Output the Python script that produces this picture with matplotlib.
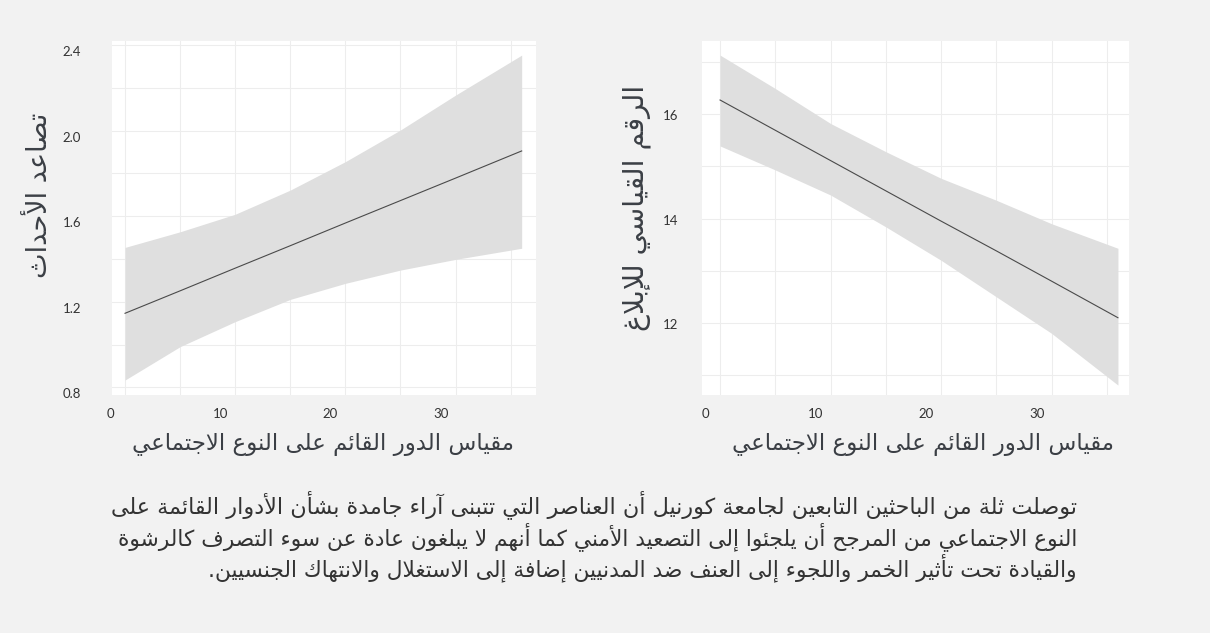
import matplotlib
matplotlib.use('Agg')
import matplotlib.pyplot as plt
from matplotlib.transforms import ScaledTranslation

# Fitted lines with confidence bands, read at x = 0, 5, ..., 30, 36
x_vals = [0, 5, 10, 15, 20, 25, 30, 36]

esc_fit = [1.146, 1.251, 1.357, 1.462, 1.568, 1.673, 1.778, 1.905]
esc_upper = [1.454, 1.527, 1.609, 1.722, 1.855, 2.003, 2.166, 2.353]
esc_lower = [0.834, 0.990, 1.107, 1.211, 1.286, 1.348, 1.398, 1.450]

rep_fit = [16.27, 15.69, 15.11, 14.53, 13.95, 13.38, 12.80, 12.10]
rep_upper = [17.13, 16.49, 15.82, 15.28, 14.77, 14.35, 13.90, 13.43]
rep_lower = [15.39, 14.93, 14.45, 13.84, 13.20, 12.50, 11.80, 10.81]

esc_major = [0.8, 1.2, 1.6, 2.0, 2.4]
esc_minor = [1.0, 1.4, 1.8, 2.2]
rep_major = [12, 14, 16]
rep_minor = [11, 13, 15, 17]
x_major = [0, 10, 20, 30]
x_minor = [5, 15, 25, 35]

xlabel = 'مقياس الدور القائم على النوع الاجتماعي'
esc_ylabel = 'تصاعد الأحداث'
rep_ylabel = 'الرقم القياسي للإبلاغ'
caption = [
    'توصلت ثلة من الباحثين التابعين لجامعة كورنيل أن العناصر التي تتبنى آراء جامدة بشأن الأدوار القائمة على',
    'النوع الاجتماعي من المرجح أن يلجئوا إلى التصعيد الأمني كما أنهم لا يبلغون عادة عن سوء التصرف كالرشوة',
    'والقيادة تحت تأثير الخمر واللجوء إلى العنف ضد المدنيين إضافة إلى الاستغلال والانتهاك الجنسيين.',
]

# --- minimal Arabic shaping: contextual forms + lam-alef, then reverse for RTL
AR_LETTERS = 'ءآأؤإئابةتثجحخدذرزسشصضطظعغفقكلمنهوىي'
RIGHT_ONLY = 'آأؤإادذرزةوى'
FORMS = {}
code = 0xFE80
for ch in AR_LETTERS:
    n = 1 if ch == 'ء' else (2 if ch in RIGHT_ONLY else 4)
    FORMS[ch] = [chr(code + k) for k in range(n)]
    code += n
LAM_ALEF = {'آ': 0xFEF5, 'أ': 0xFEF7, 'إ': 0xFEF9, 'ا': 0xFEFB}


def shape(text):
    out = []
    i = 0
    prev_joins = False
    while i < len(text):
        ch = text[i]
        if ch not in FORMS:
            out.append(ch)
            prev_joins = False
            i += 1
            continue
        nxt = text[i + 1] if i + 1 < len(text) else ''
        if ch == 'ل' and nxt in LAM_ALEF:
            out.append(chr(LAM_ALEF[nxt] + (1 if prev_joins else 0)))
            prev_joins = False
            i += 2
            continue
        f = FORMS[ch]
        joins_next = len(f) == 4 and nxt in FORMS and len(FORMS[nxt]) > 1
        joins_prev = prev_joins and len(f) > 1
        if joins_prev and joins_next:
            g = f[3]
        elif joins_prev:
            g = f[1]
        elif joins_next:
            g = f[2]
        else:
            g = f[0]
        out.append(g)
        prev_joins = joins_next
        i += 1
    return ''.join(reversed(out))


BG = '#f2f2f2'
GRID = '#ededed'
BAND = '#dfdfdf'
LINE = '#4a4a4a'
TEXT = '#3b3f45'
AR_FONT = 'DejaVu Sans'

fig = plt.figure(figsize=(12.1, 6.33), dpi=100, facecolor=BG)


def panel(rect, fit, upper, lower, xlim, ylim, ymajor, yminor, ypad, ylab_dy):
    ax = fig.add_axes(rect)
    ax.set_facecolor('white')
    ax.fill_between(x_vals, lower, upper, color=BAND, linewidth=0)
    ax.plot(x_vals, fit, color=LINE, linewidth=0.8)
    ax.set_xlim(*xlim)
    ax.set_ylim(*ylim)
    ax.set_xticks(x_major)
    ax.set_xticks(x_minor, minor=True)
    ax.set_yticks(ymajor)
    ax.set_yticks(yminor, minor=True)
    ax.set_xticklabels([str(v) for v in x_major])
    ax.set_yticklabels([f'{v:g}' if isinstance(v, int) else f'{v:.1f}' for v in ymajor])
    ax.grid(True, which='both', color=GRID, linewidth=0.8)
    ax.set_axisbelow(True)
    for s in ax.spines.values():
        s.set_visible(False)
    ax.tick_params(which='both', length=0, colors='#333333', labelsize=9.5)
    ax.tick_params(axis='x', pad=9)
    ax.tick_params(axis='y', pad=ypad)
    # tick labels sit slightly off the gridlines
    for lbl in ax.get_xticklabels():
        lbl.set_fontfamily('Lato')
        lbl.set_transform(lbl.get_transform() + ScaledTranslation(-0.15, 0, fig.dpi_scale_trans))
    for lbl in ax.get_yticklabels():
        lbl.set_fontfamily('Lato')
        lbl.set_transform(lbl.get_transform() + ScaledTranslation(0, -ylab_dy / 100, fig.dpi_scale_trans))
    return ax


W, H = 1210, 633
panel([111.7 / W, 1 - 395 / H, 424.3 / W, 354 / H], esc_fit, esc_upper, esc_lower,
      (-1.21, 37.3), (0.764, 2.419), esc_major, esc_minor, 22, 6)
panel([701.7 / W, 1 - 395 / H, 427.3 / W, 354 / H], rep_fit, rep_upper, rep_lower,
      (-1.66, 37.0), (10.62, 17.40), rep_major, rep_minor, 17, 1)

fig.text(40 / W, 1 - 195 / H, shape(esc_ylabel), rotation=90, ha='center', va='center',
         fontsize=19.5, color=TEXT, family=AR_FONT)
fig.text(637 / W, 1 - 208 / H, shape(rep_ylabel), rotation=90, ha='center', va='center',
         fontsize=20.5, color=TEXT, family=AR_FONT)
for xc in (323, 923):
    fig.text(xc / W, 1 - 445 / H, shape(xlabel), ha='center', va='center',
             fontsize=16.5, color=TEXT, family=AR_FONT)

for line, yc, fs in zip(caption, (505, 537, 568), (16, 15.7, 15.7)):
    fig.text(1077 / W, 1 - yc / H, shape(line), ha='right', va='center',
             fontsize=fs, color='#333333', family=AR_FONT)

fig.savefig('out.png', dpi=100, facecolor=BG)
